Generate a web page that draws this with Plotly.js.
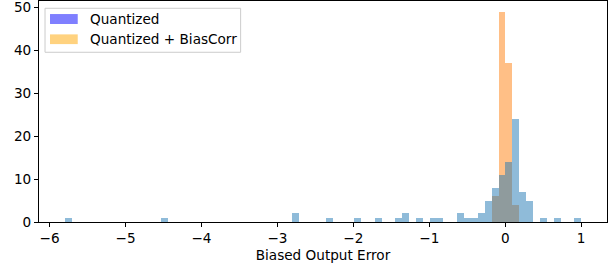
<!DOCTYPE html>
<html>
<head>
<meta charset="utf-8">
<script src="https://cdn.plot.ly/plotly-3.0.1.min.js"></script>
<style>html,body{margin:0;padding:0;background:#fff;}#chart{width:610px;height:268px;}</style>
</head>
<body>
<div id="chart"></div>
<script>
// Shared histogram bins (width = 6.8/75), only non-empty bins listed
var quantCenters = [-5.755, -4.485, -2.763, -2.309, -1.947, -1.675, -1.403, -1.312, -1.131, -0.949, -0.859,
                    -0.587, -0.496, -0.405, -0.315, -0.224, -0.133, -0.043, 0.048, 0.139, 0.229, 0.320,
                    0.501, 0.683, 0.955];
var quantCounts  = [1, 1, 2, 1, 1, 1, 1, 2, 1, 1, 1,
                    2, 1, 1, 2, 5, 8, 11, 14, 24, 7, 5,
                    1, 1, 1];
var corrCenters  = [-0.133, -0.043, 0.048, 0.139];
var corrCounts   = [6, 49, 37, 4];
var seriesNames  = ["Quantized", "Quantized + BiasCorr"];
var xTicks = [-6, -5, -4, -3, -2, -1, 0, 1];
var yTicks = [0, 10, 20, 30, 40, 50];

var binWidth = 6.8 / 75;
var font = {family: "DejaVu Sans, sans-serif", size: 13.6, color: "#000"};

var traces = [
  {type: "bar", x: corrCenters, y: corrCounts, width: binWidth, name: seriesNames[1],
   marker: {color: "rgba(255,127,14,0.5)", line: {width: 0}}, showlegend: false, hoverinfo: "x+y"},
  {type: "bar", x: quantCenters, y: quantCounts, width: binWidth, name: seriesNames[0],
   marker: {color: "rgba(31,119,180,0.5)", line: {width: 0}}, showlegend: false, hoverinfo: "x+y"}
];

// legend geometry in paper coordinates
var lg = {x0: 0.0106, x1: 0.355, y0: 0.768, y1: 0.967};
var layout = {
  width: 610, height: 268,
  margin: {l: 39, r: 3, t: 1, b: 46},
  paper_bgcolor: "#fff", plot_bgcolor: "#fff",
  barmode: "overlay", bargap: 0,
  font: font,
  showlegend: false,
  xaxis: {
    range: [-6.14, 1.34], tickvals: xTicks, ticks: "outside", ticklen: 4, tickwidth: 1, tickcolor: "#000",
    showline: true, linecolor: "#000", linewidth: 1, mirror: true, showgrid: false, zeroline: false,
    tickfont: font, ticklabeloverflow: "allow", title: {text: "Biased Output Error", font: font, standoff: 5}
  },
  yaxis: {
    range: [0, 51.45], tickvals: yTicks, ticks: "outside", ticklen: 4, tickwidth: 1, tickcolor: "#000",
    showline: true, linecolor: "#000", linewidth: 1, mirror: true, showgrid: false, zeroline: false,
    tickfont: font, ticklabeloverflow: "allow"
  },
  shapes: [
    {type: "rect", xref: "paper", yref: "paper", x0: lg.x0, x1: lg.x1, y0: lg.y0, y1: lg.y1,
     line: {color: "rgb(204,204,204)", width: 1}, fillcolor: "rgba(255,255,255,0.8)"},
    {type: "rect", xref: "paper", yref: "paper", x0: 0.0194, x1: 0.0682, y0: 0.896, y1: 0.941,
     line: {width: 0}, fillcolor: "rgba(0,0,255,0.5)"},
    {type: "rect", xref: "paper", yref: "paper", x0: 0.0194, x1: 0.0682, y0: 0.805, y1: 0.849,
     line: {width: 0}, fillcolor: "rgba(255,165,0,0.5)"}
  ],
  annotations: [
    {xref: "paper", yref: "paper", x: 0.0868, y: 0.9186, xanchor: "left", yanchor: "middle",
     text: seriesNames[0], showarrow: false, font: font},
    {xref: "paper", yref: "paper", x: 0.0868, y: 0.8267, xanchor: "left", yanchor: "middle",
     text: seriesNames[1], showarrow: false, font: font}
  ]
};

Plotly.newPlot("chart", traces, layout, {displayModeBar: false, staticPlot: true});
</script>
</body>
</html>
